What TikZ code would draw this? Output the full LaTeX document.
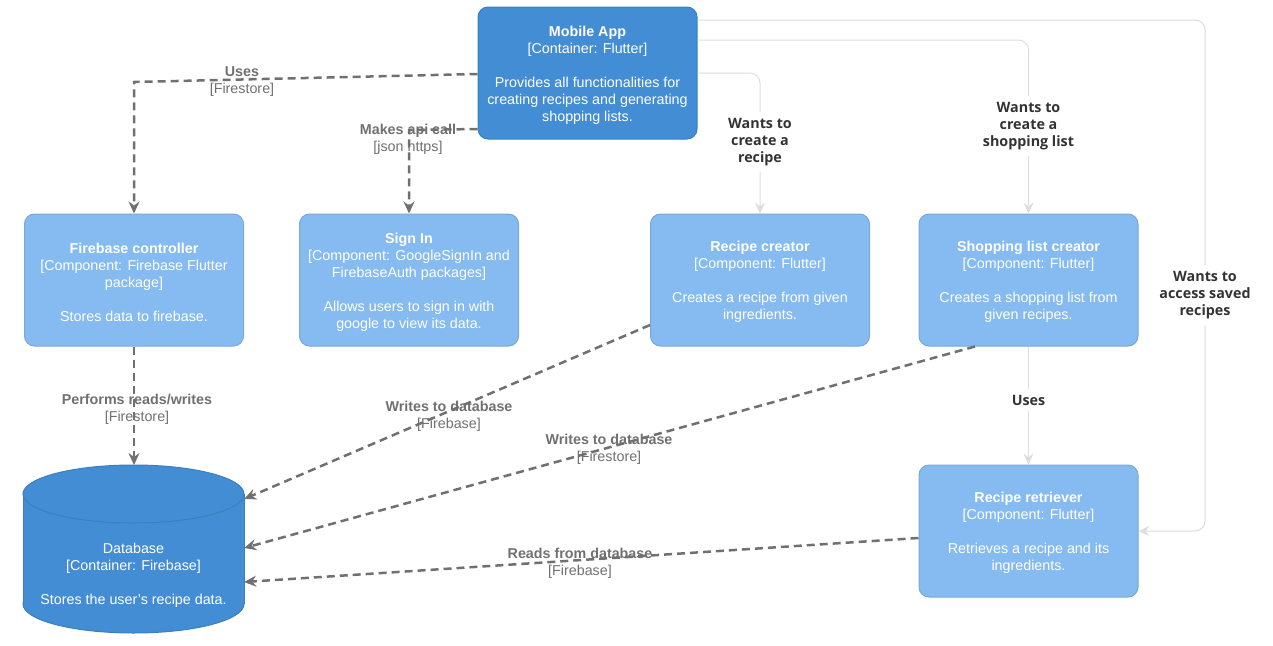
\documentclass[tikz,border=0pt]{standalone}
\usepackage{fontspec}
\setmainfont{Liberation Sans}
\newfontfamily\lblfont{Open Sans}
\usetikzlibrary{arrows.meta}

\definecolor{appblue}{HTML}{438DD5}
\definecolor{appborder}{HTML}{3C7FC0}
\definecolor{compblue}{HTML}{85BBF0}
\definecolor{compborder}{HTML}{78A8D8}
\definecolor{edgegray}{HTML}{707070}
\definecolor{lightedge}{HTML}{DDDDDD}
\definecolor{lbltext}{HTML}{333333}

\tikzset{
  every node/.style={font=\fontsize{14.3}{17}\selectfont},
  boxtext/.style={text=white, align=center},
  container/.style={boxtext, draw=appborder, fill=appblue, rounded corners=10pt, minimum width=219pt, minimum height=132pt, line width=1pt},
  component/.style={container, draw=compborder, fill=compblue},
  dasharrow/.style={draw=edgegray, line width=2.5pt, dash pattern=on 8pt off 5pt, -{Stealth[length=12pt,width=11pt,inset=4pt]}},
  lightarrow/.style={draw=lightedge, line width=1pt, rounded corners=10pt, -{Stealth[length=11pt,width=10pt,inset=4pt]}},
  dashlabel/.style={text=edgegray, align=center, inner sep=0pt},
  lightlabel/.style={fill=white, text=lbltext, align=center, inner sep=6pt, font=\lblfont\bfseries\fontsize{14.3}{17}\selectfont}
}

\begin{document}
\begin{tikzpicture}[x=1pt, y=-1pt]
                \useasboundingbox (0,0) rectangle (1273,645);
                \node[container] (app) at (587.5,73) {\rule{0pt}{14.5pt}\textbf{Mobile App}\\{[Container: Flutter]}\\[17pt]Provides all functionalities for\\creating recipes and generating\\shopping lists.};
                \node[component] (fbc) at (134,280) {\rule{0pt}{14.5pt}\textbf{Firebase controller}\\{[Component: Firebase Flutter}\\package]\\[17pt]Stores data to firebase.};
                \node[component] (signin) at (409,280) {\rule{0pt}{14.5pt}\textbf{Sign In}\\{[Component: GoogleSignIn and}\\FirebaseAuth packages]\\[17pt]Allows users to sign in with\\google to view its data.};
                \node[component] (rc) at (760,280) {\rule{0pt}{14.5pt}\textbf{Recipe creator}\\{[Component: Flutter]}\\[17pt]Creates a recipe from given\\ingredients.};
                \node[component] (slc) at (1028.5,280) {\rule{0pt}{14.5pt}\textbf{Shopping list creator}\\{[Component: Flutter]}\\[17pt]Creates a shopping list from\\given recipes.};
                \node[component] (rr) at (1028.5,531) {\rule{0pt}{14.5pt}\textbf{Recipe retriever}\\{[Component: Flutter]}\\[17pt]Retrieves a recipe and its\\ingredients.};
                % database cylinder
                \filldraw[fill=appblue, draw=appborder, line width=1pt] (133.5,604) ellipse (110.5 and 29);
                \fill[appblue] (23,494) rectangle (244,604);
                \draw[appborder, line width=1pt] (23,494) -- (23,604) (244,494) -- (244,604);
                \filldraw[fill=appblue, draw=appborder, line width=1pt] (133.5,494) ellipse (110.5 and 29);
                \node[boxtext, minimum width=221pt] (db) at (133.5,575) {Database\\{[Container: Firebase]}\\[17pt]Stores the user's recipe data.};
                % dashed relations
                \draw[dasharrow] (app.west |- 0,74) -- (fbc.north |- 0,82) -- (fbc.north);
                \draw[dasharrow] (app.west |- 0,129) -- (signin.north |- 0,130) -- (signin.north);
                \draw[dasharrow] (fbc.south) -- (fbc.south |- 0,465);
                \draw[dasharrow] (rc.west |- 0,325) -- (db.east |- 0,499);
                \draw[dasharrow] (slc.south -| 975,0) -- (db.east |- 0,548);
                \draw[dasharrow] (rr.west |- 0,538) -- (db.east |- 0,582);
                \node[dashlabel] (usesfs) at (242,81.5) {\textbf{Uses}\\{[Firestore]}};
                \node[dashlabel] (apicall) at (408,139) {\textbf{Makes api call}\\{[json https]}};
                \node[dashlabel] (rwfs) at (137,409) {\textbf{Performs reads/writes}\\{[Firestore]}};
                \node[dashlabel] (writesfb) at (449,416) {\textbf{Writes to database}\\{[Firebase]}};
                \node[dashlabel] (writesfs) at (609,449) {\textbf{Writes to database}\\{[Firestore]}};
                \node[dashlabel] (readsfb) at (580,563) {\textbf{Reads from database}\\{[Firebase]}};
                % light relations
                \draw[lightarrow] (app.east |- 0,73) -- (rc.north |- 0,73) -- (rc.north);
                \draw[lightarrow] (app.east |- 0,40) -- (slc.north |- 0,40) -- (slc.north);
                \draw[lightarrow] (app.east |- 0,20) -- (1205,20) -- (1205,531) -- (rr.east);
                \draw[lightarrow] (slc.south) -- (rr.north);
                \node[lightlabel] (wantrecipe) at (760,142) {Wants to\\create a\\recipe};
                \node[lightlabel] (wantlist) at (1028.5,126) {Wants to\\create a\\shopping list};
                \node[lightlabel] (wantsaved) at (1205,295) {Wants to\\access saved\\recipes};
                \node[lightlabel] (usesrr) at (1028.5,400) {Uses};
            \end{tikzpicture}
\end{document}
